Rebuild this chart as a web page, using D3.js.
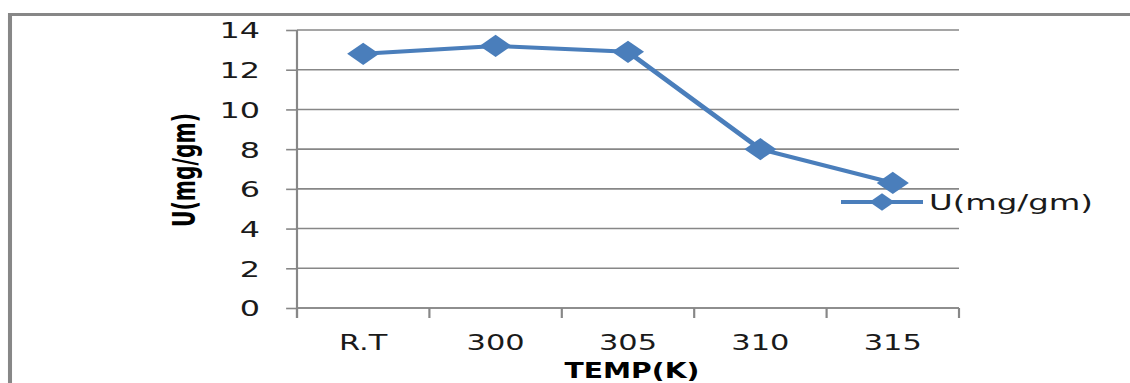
<!DOCTYPE html>
<html>
<head>
<meta charset="utf-8">
<script src="https://cdn.jsdelivr.net/npm/d3@7"></script>
<style>
  html, body { margin: 0; padding: 0; background: #fff; overflow: hidden; }
  svg { display: block; }
</style>
</head>
<body>
<div id="chart"></div>
<script>
const categories = ["R.T", "300", "305", "310", "315"];
const values = [12.8, 13.2, 12.9, 8.0, 6.3];
const yTicks = [0, 2, 4, 6, 8, 10, 12, 14];
const seriesName = "U(mg/gm)";
const xTitle = "TEMP(K)";
const yTitle = "U(mg/gm)";

// The original picture is horizontally stretched; draw in a compressed
// coordinate system and stretch it to the page width.
const W = 1130, H = 383;
const VW = 779;
const k = W / VW;

const svg = d3.select("#chart").append("svg")
  .attr("width", W).attr("height", H)
  .attr("viewBox", `0 0 ${VW} ${H}`)
  .attr("preserveAspectRatio", "none");

const gray = "#878787";
const blue = "#4a7ebb";
const font = "DejaVu Sans, Verdana, sans-serif";

// outer frame (only the left and top edges are visible)
svg.append("path")
  .attr("d", `M${10 / k},${H + 10} L${10 / k},14.5 L${VW + 10},14.5`)
  .attr("fill", "none").attr("stroke", gray).attr("stroke-width", 2.8);

const plotLeft = 297 / k, plotRight = 959 / k, plotTop = 30, plotBottom = 308;

const x = d3.scaleBand().domain(categories).range([plotLeft, plotRight]).padding(0);
const y = d3.scaleLinear().domain([0, 14]).range([plotBottom, plotTop]);

// gridlines
svg.append("g").selectAll("line").data(yTicks).join("line")
  .attr("x1", plotLeft).attr("x2", plotRight)
  .attr("y1", d => y(d)).attr("y2", d => y(d))
  .attr("stroke", gray).attr("stroke-width", 1.6);

// y axis
const yAxis = svg.append("g").attr("transform", `translate(${plotLeft},0)`)
  .call(d3.axisLeft(y).tickValues(yTicks).tickSize(7.5).tickSizeOuter(0).tickPadding(18));
yAxis.select(".domain").remove();
yAxis.selectAll(".tick line").attr("stroke", gray).attr("stroke-width", 1.6);
yAxis.selectAll(".tick text")
  .attr("font-family", font).attr("font-size", 22).attr("fill", "#1a1a1a")
  .attr("dy", "0.36em");
svg.append("line")
  .attr("x1", plotLeft).attr("x2", plotLeft)
  .attr("y1", y(14)).attr("y2", y(0) + 10)
  .attr("stroke", gray).attr("stroke-width", 1.5);

// x axis
const xAxis = svg.append("g").attr("transform", `translate(0,${plotBottom})`)
  .call(d3.axisBottom(x).tickSize(0).tickSizeOuter(0).tickPadding(0));
xAxis.select(".domain").remove();
xAxis.selectAll(".tick text")
  .attr("font-family", font).attr("font-size", 21).attr("fill", "#1a1a1a")
  .attr("y", 42).attr("dy", 0);
const bounds = categories.map(c => x(c)).concat([x(categories[categories.length - 1]) + x.bandwidth()]);
svg.append("line")
  .attr("x1", plotLeft).attr("x2", plotRight).attr("y1", plotBottom).attr("y2", plotBottom)
  .attr("stroke", gray).attr("stroke-width", 1.6);
svg.append("g").selectAll("line").data(bounds).join("line")
  .attr("x1", d => d).attr("x2", d => d)
  .attr("y1", plotBottom).attr("y2", plotBottom + 10)
  .attr("stroke", gray).attr("stroke-width", 1.5);

// series line
const cx = c => x(c) + x.bandwidth() / 2;
const pts = categories.map((c, i) => [cx(c), y(values[i])]);
svg.append("path").datum(pts)
  .attr("d", d3.line())
  .attr("fill", "none").attr("stroke", blue).attr("stroke-width", 4)
  .attr("stroke-linejoin", "round");

const diamond = d3.symbol().type(d3.symbolSquare).size(245);
svg.append("g").selectAll("path").data(pts).join("path")
  .attr("d", diamond)
  .attr("transform", d => `translate(${d[0]},${d[1]}) rotate(45)`)
  .attr("fill", blue);

// legend
const ly = 202;
svg.append("line")
  .attr("x1", 841 / k).attr("x2", 923 / k).attr("y1", ly).attr("y2", ly)
  .attr("stroke", blue).attr("stroke-width", 4);
svg.append("path")
  .attr("d", d3.symbol().type(d3.symbolSquare).size(150))
  .attr("transform", `translate(${882 / k},${ly}) rotate(45)`)
  .attr("fill", blue);
svg.append("text")
  .attr("x", 929 / k).attr("y", 210)
  .attr("font-family", font).attr("font-size", 22).attr("fill", "#1a1a1a")
  .attr("textLength", 164 / k).attr("lengthAdjust", "spacingAndGlyphs")
  .text(seriesName);

// axis titles
svg.append("text")
  .attr("transform", `translate(${195 / k},170) rotate(-90)`)
  .attr("text-anchor", "middle")
  .attr("font-family", font).attr("font-weight", "bold").attr("font-size", 22)
  .attr("textLength", 114).attr("lengthAdjust", "spacingAndGlyphs")
  .text(yTitle);

svg.append("text")
  .attr("x", 632 / k).attr("y", 378)
  .attr("text-anchor", "middle")
  .attr("font-family", font).attr("font-weight", "bold").attr("font-size", 22)
  .attr("textLength", 135 / k).attr("lengthAdjust", "spacingAndGlyphs")
  .text(xTitle);
</script>
</body>
</html>
